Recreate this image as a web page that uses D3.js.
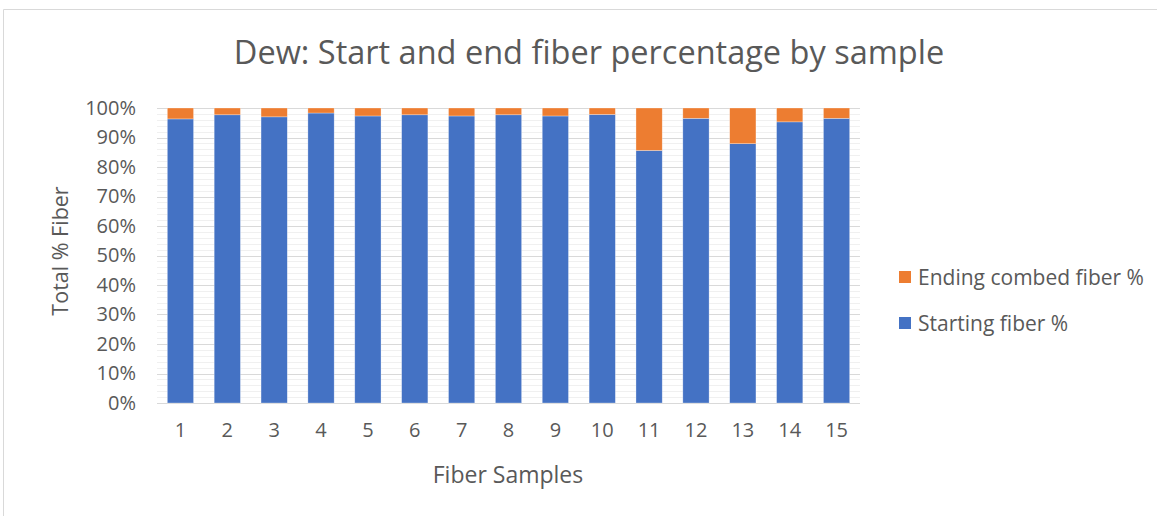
<!DOCTYPE html>
<html><head><meta charset="utf-8">
<script src="https://cdn.jsdelivr.net/npm/d3@7"></script>
<style>body{margin:0;background:#fff}svg{display:block}text{font-family:"Open Sans",sans-serif;fill:#595959}</style>
</head><body>
<script>
const categories = ["1","2","3","4","5","6","7","8","9","10","11","12","13","14","15"];
const startingFiber = [96.3,97.7,97.0,98.3,97.3,97.7,97.3,97.7,97.3,97.8,85.6,96.5,87.9,95.3,96.5];
const endingCombed = startingFiber.map(v => +(100 - v).toFixed(1));
const yTicks = [0,10,20,30,40,50,60,70,80,90,100];
const seriesNames = ["Starting fiber %","Ending combed fiber %"];
const colors = ["#4472C4","#ED7D31"];

const W = 1157, H = 516;
const svg = d3.select("body").append("svg").attr("width", W).attr("height", H);

// chart frame
svg.append("path").attr("d", "M3.5,516V9.5H1157").attr("fill","none").attr("stroke","#d9d9d9").attr("stroke-width",1);

const m = {l:157, r:860, t:108, b:403};
const x = d3.scaleBand().domain(categories).range([m.l, m.r]).paddingInner(0.44).paddingOuter(0.22);
const y = d3.scaleLinear().domain([0,100]).range([m.b, m.t]);

// minor gridlines
const minor = d3.range(0, 101, 2).filter(v => v % 10 !== 0);
svg.append("g").selectAll("line").data(minor).join("line")
  .attr("x1", m.l).attr("x2", m.r).attr("y1", d => Math.round(y(d))+0.5).attr("y2", d => Math.round(y(d))+0.5)
  .attr("stroke", "#f0f0f0").attr("stroke-width", 1);
// major gridlines
svg.append("g").selectAll("line").data(yTicks).join("line")
  .attr("x1", m.l).attr("x2", m.r).attr("y1", d => Math.round(y(d))+0.5).attr("y2", d => Math.round(y(d))+0.5)
  .attr("stroke", "#d9d9d9").attr("stroke-width", 1);

// stacked bars
const rows = categories.map((c,i) => ({cat:c, start:startingFiber[i], end:endingCombed[i]}));
const stack = d3.stack().keys(["start","end"])(rows);
svg.append("g").selectAll("g").data(stack).join("g").attr("fill", (d,i) => colors[i])
  .selectAll("rect").data(d => d).join("rect")
  .attr("x", d => x(d.data.cat)).attr("width", x.bandwidth())
  .attr("y", d => y(d[1])).attr("height", d => y(d[0]) - y(d[1]))
  .attr("stroke", "#fff").attr("stroke-width", 0.6).attr("stroke-opacity", 0.5);

// axes
const yAxis = svg.append("g").attr("transform", `translate(${m.l},0)`)
  .call(d3.axisLeft(y).tickValues(yTicks).tickFormat(d => d + "%").tickSize(0).tickPadding(21));
yAxis.select(".domain").remove();
yAxis.selectAll("text").attr("font-size", 20).style("fill", "#595959").attr("font-family","Open Sans");

const xAxis = svg.append("g").attr("transform", `translate(0,${m.b})`)
  .call(d3.axisBottom(x).tickSize(0).tickPadding(20));
xAxis.select(".domain").remove();
xAxis.selectAll("text").attr("font-size", 20).style("fill", "#595959").attr("font-family","Open Sans");

// titles
svg.append("text").attr("x", 589).attr("y", 63.5).attr("text-anchor","middle").attr("font-size", 32.5).text("Dew: Start and end fiber percentage by sample");
svg.append("text").attr("x", 508).attr("y", 483).attr("text-anchor","middle").attr("font-size", 23).text("Fiber Samples");
svg.append("text").attr("transform","translate(68,251) rotate(-90)").attr("text-anchor","middle").attr("font-size", 21.5).text("Total % Fiber");

// legend
const legendItems = [{name: seriesNames[1], color: colors[1], y: 277}, {name: seriesNames[0], color: colors[0], y: 323}];
const lg = svg.append("g").selectAll("g").data(legendItems).join("g").attr("transform", d => `translate(899,${d.y})`);
lg.append("rect").attr("x",0).attr("y",-6).attr("width",12).attr("height",12).attr("fill", d => d.color);
lg.append("text").attr("x",19).attr("y",7.5).attr("font-size",21).text(d => d.name);
</script>
</body></html>
